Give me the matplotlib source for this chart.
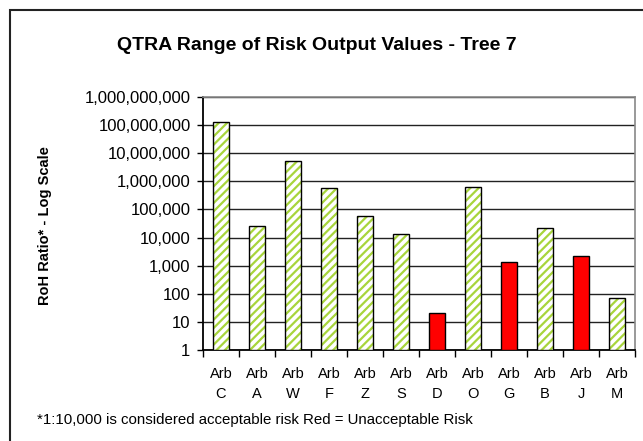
import matplotlib
matplotlib.use("Agg")
import matplotlib.pyplot as plt
from matplotlib.patches import Rectangle
from matplotlib.ticker import FixedLocator, NullLocator, FuncFormatter
import numpy as np

plt.rcParams['font.family'] = ['Liberation Sans', 'DejaVu Sans']
plt.rcParams['hatch.linewidth'] = 1.6

categories = ["Arb\nC", "Arb\nA", "Arb\nW", "Arb\nF", "Arb\nZ", "Arb\nS",
              "Arb\nD", "Arb\nO", "Arb\nG", "Arb\nB", "Arb\nJ", "Arb\nM"]
values = [130000000, 26000, 5500000, 570000, 60000, 13500,
          20, 630000, 1300, 21000, 2200, 70]
unacceptable = [False, False, False, False, False, False,
                True, False, True, False, True, False]
yticks = [1, 10, 100, 1000, 10000, 100000, 1000000, 10000000, 100000000, 1000000000]

fig = plt.figure(figsize=(6.43, 4.41), dpi=100)
fig.patches.append(Rectangle((10 / 643, -0.05), 1.1, 1.05 - 10 / 441, transform=fig.transFigure,
                             fill=False, edgecolor='#222222', linewidth=1.5))

ax = fig.add_axes([203 / 643, 1 - 350 / 441, (635 - 203) / 643, (350 - 97) / 441])
ax.set_yscale('log')
ax.set_ylim(1, 1e9)
ax.set_xlim(-0.5, len(categories) - 0.5)

x = np.arange(len(categories))
green = '#a8d53c'
for xi, v, bad in zip(x, values, unacceptable):
    if bad:
        ax.bar(xi, v, width=0.42, bottom=1, color='#ff0000', edgecolor='black', linewidth=1.0, zorder=3)
    else:
        ax.bar(xi, v, width=0.42, bottom=1, color='white', edgecolor=green, hatch='////', linewidth=0, zorder=3)
        ax.bar(xi, v, width=0.42, bottom=1, fill=False, edgecolor='black', linewidth=1.0, zorder=4)

ax.yaxis.set_major_locator(FixedLocator(yticks))
ax.yaxis.set_minor_locator(NullLocator())
ax.yaxis.set_major_formatter(FuncFormatter(lambda v, p: f"{int(round(v)):,}"))
ax.grid(axis='y', color='#222222', linewidth=1.0, zorder=0)
ax.tick_params(axis='y', length=4, width=1, labelsize=12, pad=5, direction='out')

ax.set_xticks(x)
ax.set_xticklabels(categories, fontsize=10.5, linespacing=1.6)
ax.tick_params(axis='x', length=0, pad=12)
ax.set_xticks(np.arange(-0.5, len(categories), 1), minor=True)
ax.tick_params(axis='x', which='minor', length=5, width=1, direction='out')

for side in ['top', 'right']:
    ax.spines[side].set_color('#888888')
    ax.spines[side].set_linewidth(1.2)
ax.spines['left'].set_color('black')
ax.spines['bottom'].set_color('black')
ax.spines['left'].set_linewidth(1.3)
ax.spines['bottom'].set_linewidth(1.3)

fig.text(317 / 643, 1 - 45 / 441, "QTRA Range of Risk Output Values - Tree 7",
         ha='center', va='center', fontsize=14, fontweight='bold')
fig.text(45 / 643, 1 - 226 / 441, "RoH Ratio* - Log Scale", rotation=90,
         ha='center', va='center', fontsize=10.5, fontweight='bold')
fig.text(37 / 643, 1 - 420 / 441, "*1:10,000 is considered acceptable risk Red = Unacceptable Risk",
         ha='left', va='center', fontsize=10.8)

fig.savefig("out.png", dpi=100)
